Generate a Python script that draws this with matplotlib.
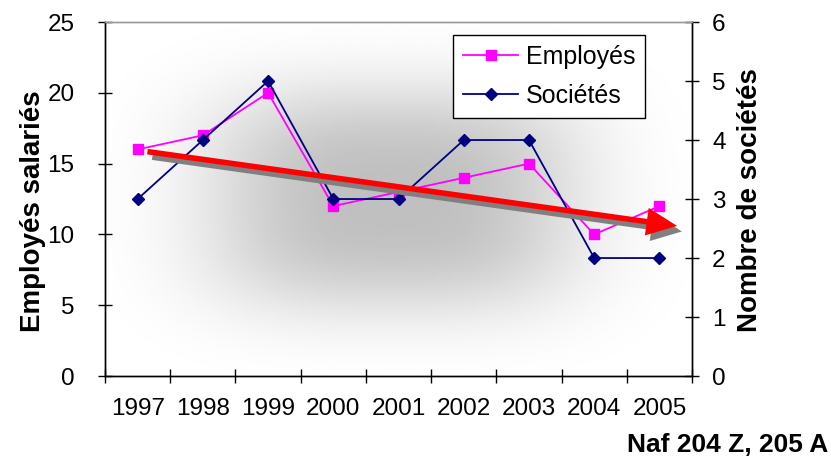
import matplotlib
matplotlib.use("Agg")
import matplotlib.pyplot as plt
import matplotlib.patheffects as pe
import numpy as np

plt.rcParams['font.family'] = ['Liberation Sans', 'DejaVu Sans']

years = ['1997', '1998', '1999', '2000', '2001', '2002', '2003', '2004', '2005']
employes = [16, 17, 20, 12, 13, 14, 15, 10, 12]
societes = [3, 4, 5, 3, 3, 4, 4, 2, 2]

# hand-drawn downward trend arrow (employees scale)
trend_x = [0.15, 8.27]
trend_y = [15.85, 10.6]

x = np.arange(len(years))

fig = plt.figure(figsize=(8.31, 4.57), dpi=100)
ax = fig.add_axes([0.1264, 0.1772, 0.7064, 0.7746])
ax2 = ax.twinx()

# soft grey blob behind the plot
u = np.linspace(0, 1, 300)
v = np.linspace(0, 1, 200)
U, V = np.meshgrid(u, v)
blob = np.exp(-(np.abs(U - 0.49) / 0.32) ** 3) * np.exp(-(np.abs(V - 0.5) / 0.32) ** 3)
shade = 1 - 0.25 * blob
ax.imshow(shade, cmap='gray', vmin=0, vmax=1, extent=(-0.5, 8.5, 0, 25),
          aspect='auto', interpolation='bilinear', zorder=0, origin='lower')

l1, = ax.plot(x, employes, color='#FF00FF', lw=1.3, marker='s', ms=7.8,
              markeredgecolor='#FF00FF', zorder=3)
l2, = ax2.plot(x, societes, color='#000080', lw=1.3, marker='D', ms=6.5,
               markeredgecolor='#000080', zorder=3)

ax2.annotate('', xy=(trend_x[1], trend_y[1]), xytext=(trend_x[0], trend_y[0]),
             xycoords=ax.transData, textcoords=ax.transData,
             arrowprops=dict(arrowstyle='simple,head_length=1.1,head_width=1.0,tail_width=0.2',
                             mutation_scale=20, color='red', lw=0, shrinkA=0, shrinkB=0,
                             path_effects=[pe.SimplePatchShadow(offset=(3.5, -4), shadow_rgbFace='#808080', alpha=1),
                                           pe.Normal()]),
             zorder=4)

ax.set_xlim(-0.5, 8.5)
ax.set_ylim(0, 25)
ax2.set_ylim(0, 6)
ax.set_yticks(np.arange(0, 26, 5))
ax2.set_yticks(np.arange(0, 7, 1))

ax.set_xticks(np.arange(-0.5, 9, 1))
ax.set_xticklabels([])
ax.set_xticks(x, minor=True)
ax.set_xticklabels(years, minor=True)
ax.tick_params(axis='x', which='major', direction='inout', length=10, width=1)
ax.tick_params(axis='x', which='minor', length=0, pad=16, labelsize=17.5)
ax.tick_params(axis='y', direction='inout', length=10, width=1, pad=17, labelsize=17.5)
ax2.tick_params(axis='y', direction='inout', length=10, width=1, pad=9.5, labelsize=17.5)

for a in (ax, ax2):
    for s in ('left', 'right', 'bottom'):
        a.spines[s].set_linewidth(1)
        a.spines[s].set_color('black')
    a.spines['top'].set_color('#999999')
    a.spines['top'].set_linewidth(1)

leg = ax2.legend([l1, l2], ['Employés', 'Sociétés'], loc='upper right',
                 bbox_to_anchor=(0.92, 0.963), fontsize=18, fancybox=False,
                 edgecolor='black', framealpha=1, borderpad=0.4, handlelength=2.2,
                 handletextpad=0.3, labelspacing=0.6, borderaxespad=0)
leg.get_frame().set_linewidth(1)

fig.text(33 / 831, 1 - 211 / 457, 'Employés salariés', rotation=90, ha='center',
         va='center', fontsize=20, fontweight='bold')
fig.text(750 / 831, 1 - 200 / 457, 'Nombre de sociétés', rotation=90, ha='center',
         va='center', fontsize=20, fontweight='bold')
fig.text(828 / 831, 5 / 457, 'Naf 204 Z, 205 A', ha='right', va='baseline',
         fontsize=19, fontweight='bold')

fig.savefig('out.png', dpi=100)
